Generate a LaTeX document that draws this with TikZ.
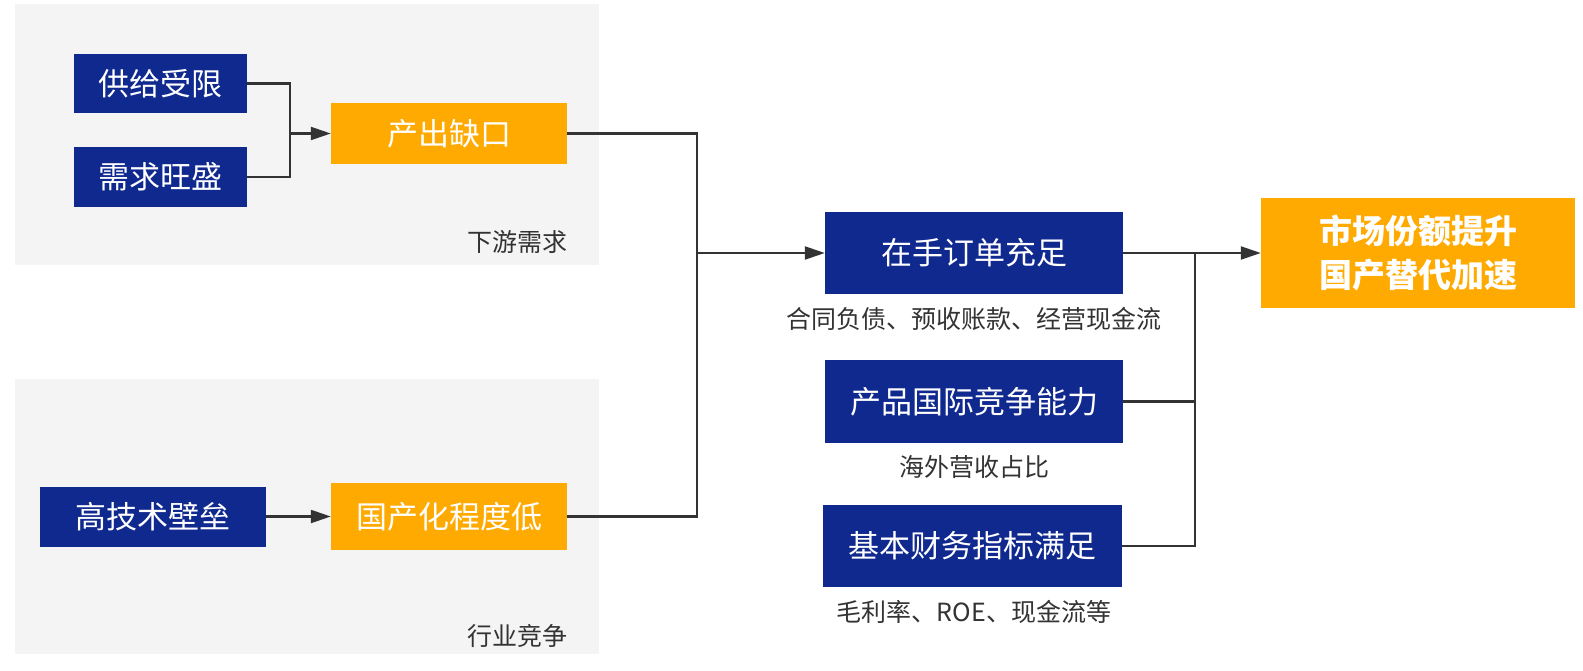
\documentclass[tikz,border=0pt]{standalone}
\usepackage{fontspec}
\setmainfont{Noto Sans CJK SC}
\usetikzlibrary{arrows.meta}
\definecolor{navy}{HTML}{10298F}
\definecolor{orng}{HTML}{FFAA00}
\definecolor{panelbg}{HTML}{F4F4F4}
\definecolor{linec}{HTML}{333333}
\definecolor{labc}{HTML}{333333}
\tikzset{
  box/.style={rectangle, inner sep=0pt, text=white, font=\fontsize{31}{37}\selectfont},
  navybox/.style={box, fill=navy},
  orangebox/.style={box, fill=orng},
  panel/.style={rectangle, inner sep=0pt, fill=panelbg},
  lab/.style={inner sep=0pt, text=labc, font=\fontsize{25}{30}\selectfont},
  conn/.style={draw=linec, line width=2.2pt},
  arr/.style={conn, -{Triangle[length=20pt,width=13pt]}}
}
\begin{document}
\begin{tikzpicture}[x=1pt,y=-1pt]
\useasboundingbox (0,0) rectangle (1583,671);
\fill[white] (0,0) rectangle (1583,671);
% panels
\node[panel, minimum width=584pt, minimum height=261pt] (pan1) at (307,134.5) {};
\node[panel, minimum width=584pt, minimum height=275pt] (pan2) at (307,516.5) {};
\node[lab] (t1) at (517,242) {下游需求};
\node[lab] (t2) at (517,636) {行业竞争};
% left boxes
\node[navybox, minimum width=173pt, minimum height=59pt] (a1) at (160.5,83.5) {供给受限};
\node[navybox, minimum width=173pt, minimum height=60pt] (a2) at (160.5,177) {需求旺盛};
\node[orangebox, minimum width=236pt, minimum height=61pt] (a3) at (449,133.5) {产出缺口};
\node[navybox, minimum width=226pt, minimum height=60pt] (b1) at (153,516.5) {高技术壁垒};
\node[orangebox, minimum width=236pt, minimum height=67pt] (b2) at (449,516.5) {国产化程度低};
% middle
\node[navybox, minimum width=298pt, minimum height=81pt] (c1) at (974,253) {在手订单充足};
\node[lab] (l1) at (974,319) {合同负债、预收账款、经营现金流};
\node[navybox, minimum width=298pt, minimum height=83pt] (c2) at (974,401.5) {产品国际竞争能力};
\node[lab] (l2) at (974,467) {海外营收占比};
\node[navybox, minimum width=299pt, minimum height=82pt] (c3) at (972.5,546) {基本财务指标满足};
\node[lab] (l3) at (974,612) {毛利率、ROE、现金流等};
% final
\node[orangebox, minimum width=314pt, minimum height=109pt, align=center, font=\fontsize{33}{44}\selectfont\bfseries] (d) at (1418,253) {市场份额提升\\国产替代加速};
% junctions
\coordinate (j1) at (290,133.5);
\coordinate (j2) at (697,253);
\coordinate (j3) at (1195,253);
\draw[conn] (a1.east) -| (j1);
\draw[conn] (a2.east) -| (j1);
\draw[arr] (j1) -- (a3.west);
\draw[arr] (b1.east) -- (b2.west);
\draw[conn] (a3.east) -| (j2);
\draw[conn] (b2.east) -| (j2);
\draw[arr] (j2) -- (c1.west);
\draw[arr] (c1.east) -- (d.west);
\draw[conn] (c2.east) -| (j3);
\draw[conn] (c3.east) -| (j3);
\end{tikzpicture}
\end{document}
